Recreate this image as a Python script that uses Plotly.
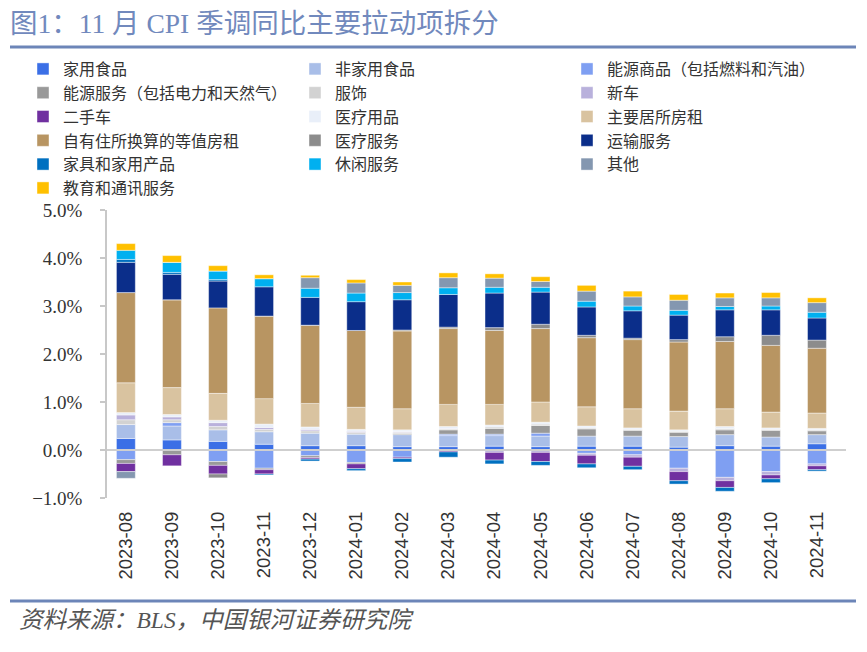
import plotly.graph_objects as go

months = ["2023-08", "2023-09", "2023-10", "2023-11", "2023-12", "2024-01", "2024-02", "2024-03",
          "2024-04", "2024-05", "2024-06", "2024-07", "2024-08", "2024-09", "2024-10", "2024-11"]

home_food = [0.24, 0.21, 0.18, 0.12, 0.09, 0.09, 0.07, 0.07, 0.08, 0.07, 0.08, 0.08, 0.06, 0.09, 0.08, 0.13]
away_food = [0.29, 0.29, 0.24, 0.26, 0.26, 0.24, 0.25, 0.23, 0.22, 0.22, 0.21, 0.21, 0.22, 0.23, 0.19, 0.19]
energy_goods = [-0.20, 0.07, -0.24, -0.38, -0.12, -0.26, -0.15, 0.03, 0.03, 0.06, -0.07, -0.10, -0.38, -0.57, -0.45, -0.29]
energy_services = [-0.08, -0.10, -0.08, -0.03, -0.04, -0.03, 0.02, 0.09, 0.12, 0.16, 0.15, 0.12, 0.09, 0.10, 0.14, 0.08]
apparel = [0.10, 0.06, 0.07, 0.05, 0.05, 0.04, 0.03, 0.02, 0.03, 0.03, 0.02, 0.02, 0.02, 0.03, 0.02, 0.02]
new_cars = [0.10, 0.06, 0.08, 0.04, 0.03, 0.02, 0.01, 0.01, -0.05, -0.05, -0.04, -0.05, -0.07, -0.07, -0.07, -0.04]
used_cars = [-0.17, -0.23, -0.18, -0.09, -0.03, -0.10, -0.03, -0.04, -0.16, -0.19, -0.18, -0.19, -0.19, -0.14, -0.08, -0.08]
medical_goods = [0.05, 0.05, 0.05, 0.07, 0.05, 0.04, 0.04, 0.04, 0.04, 0.04, 0.04, 0.03, 0.03, 0.04, 0.03, 0.03]
rent = [0.62, 0.56, 0.56, 0.53, 0.49, 0.46, 0.44, 0.46, 0.43, 0.42, 0.40, 0.40, 0.39, 0.37, 0.33, 0.32]
oer = [1.88, 1.83, 1.78, 1.72, 1.63, 1.60, 1.62, 1.58, 1.54, 1.53, 1.44, 1.44, 1.44, 1.40, 1.39, 1.35]
medical_services = [0.00, 0.00, -0.08, 0.00, 0.00, 0.00, 0.02, 0.03, 0.06, 0.09, 0.05, 0.03, 0.05, 0.10, 0.21, 0.17]
transport = [0.63, 0.53, 0.56, 0.61, 0.58, 0.60, 0.63, 0.68, 0.72, 0.67, 0.59, 0.57, 0.51, 0.56, 0.53, 0.46]
furnishings = [0.06, 0.04, 0.03, -0.02, -0.04, -0.04, -0.07, -0.11, -0.08, -0.08, -0.08, -0.07, -0.07, -0.08, -0.08, -0.03]
recreation = [0.19, 0.21, 0.18, 0.17, 0.19, 0.18, 0.15, 0.14, 0.12, 0.10, 0.12, 0.10, 0.10, 0.07, 0.08, 0.12]
other = [-0.14, 0.00, 0.00, 0.00, 0.22, 0.21, 0.15, 0.21, 0.19, 0.12, 0.21, 0.19, 0.21, 0.18, 0.17, 0.20]
education = [0.14, 0.14, 0.11, 0.08, 0.05, 0.07, 0.07, 0.10, 0.09, 0.10, 0.12, 0.12, 0.12, 0.10, 0.11, 0.10]

series_names = ["家用食品", "非家用食品", "能源商品（包括燃料和汽油）",
                "能源服务（包括电力和天然气）", "服饰", "新车",
                "二手车", "医疗用品", "主要居所房租",
                "自有住所换算的等值房租", "医疗服务", "运输服务",
                "家具和家用产品", "休闲服务", "其他",
                "教育和通讯服务"]
series_values = [home_food, away_food, energy_goods, energy_services, apparel, new_cars,
                 used_cars, medical_goods, rent, oer, medical_services, transport,
                 furnishings, recreation, other, education]
series_colors = ["#3b6fe6", "#a9bee8", "#7f9ff2", "#999999", "#d2d2d2", "#b9b1dc",
                 "#7030a0", "#e9eff9", "#d9c3a0", "#b89562", "#8c8c8c", "#0b2e8a",
                 "#0070c0", "#00b0f0", "#8497b0", "#ffc000"]

# page has an 8px body margin; work in page pixels and convert
OFF = 8
PAGE_W, PAGE_H = 867, 652
W, H = PAGE_W - OFF, PAGE_H - OFF
plot_left, plot_right, plot_top, plot_bottom = 107, 840, 210, 498   # page pixels
L, R = plot_left - OFF, W - (plot_right - OFF)
T, B = plot_top - OFF, H - (plot_bottom - OFF)
pw, ph = W - L - R, H - T - B

def cx(px):   # page px -> container fraction
    return (px - OFF) / W

def cy(py):
    return 1 - (py - OFF) / H

def px_to_paper_x(px):
    return (px - plot_left) / pw

def px_to_paper_y(py):
    return (plot_bottom - py) / ph

fig = go.Figure()
legend_ids = ["legend", "legend2", "legend3"]
for i, (name, vals, col) in enumerate(zip(series_names, series_values, series_colors)):
    fig.add_trace(go.Bar(
        x=months, y=vals, name=name,
        marker=dict(color=col, line=dict(color="rgba(255,255,255,0.7)", width=0.6)),
        legend=legend_ids[i % 3],
    ))

leg_common = dict(
    xref="container", yref="container", xanchor="left", yanchor="top",
    font=dict(family="Noto Sans CJK SC", size=16, color="#333333"),
    bgcolor="rgba(0,0,0,0)", itemwidth=30, traceorder="normal",
)
legend_x = [23, 295, 567]   # page px of legend left edge
legend_top = 52             # page px

fig.update_layout(
    width=W, height=H,
    margin=dict(l=L, r=R, t=T, b=B, autoexpand=False),
    paper_bgcolor="white", plot_bgcolor="white",
    barmode="relative", bargap=0.59,
    title=dict(
        text="图1：11 月 CPI 季调同比主要拉动项拆分",
        xref="container", yref="container",
        x=cx(10), y=cy(23), xanchor="left", yanchor="middle",
        font=dict(family="Liberation Serif, Noto Sans CJK SC", size=27.5, color="#7189bd"),
    ),
    legend=dict(x=cx(legend_x[0]), y=cy(legend_top), **leg_common),
    legend2=dict(x=cx(legend_x[1]), y=cy(legend_top), **leg_common),
    legend3=dict(x=cx(legend_x[2]), y=cy(legend_top), **leg_common),
    xaxis=dict(
        type="category", range=[-0.41, 15.5], tickangle=-90,
        showline=False, ticks="", showgrid=False, zeroline=False,
        ticklabelstandoff=9,
        tickfont=dict(family="Liberation Sans", size=18.5, color="#333333"),
    ),
    yaxis=dict(
        range=[-1, 5], dtick=1, tickformat=".1f", ticksuffix="%",
        showline=True, linecolor="#c8c8c8", linewidth=1.5,
        ticks="outside", ticklen=5, tickcolor="#c8c8c8", tickwidth=1.5,
        showgrid=False, zeroline=False, ticklabelstandoff=14,
        tickfont=dict(family="Liberation Serif", size=19, color="#333333"),
    ),
)

# zero line drawn over the bars
fig.add_shape(type="line", xref="paper", yref="y", x0=0, x1=px_to_paper_x(846), y0=0, y1=0,
              line=dict(color="#cfcfcf", width=2), layer="above")

for yline in (47, 601):
    fig.add_shape(type="line", xref="paper", yref="paper",
                  x0=px_to_paper_x(10), x1=px_to_paper_x(856),
                  y0=px_to_paper_y(yline), y1=px_to_paper_y(yline),
                  line=dict(color="#6c85b8", width=3), layer="above")

fig.add_annotation(
    text="<i>资料来源：BLS，中国银河证券研究院</i>",
    xref="paper", yref="paper", x=px_to_paper_x(17), y=px_to_paper_y(620),
    xanchor="left", yanchor="middle", showarrow=False,
    font=dict(family="Liberation Serif, Noto Sans CJK SC", size=23.5, color="#555555"),
)

fig.write_html("out.html")
